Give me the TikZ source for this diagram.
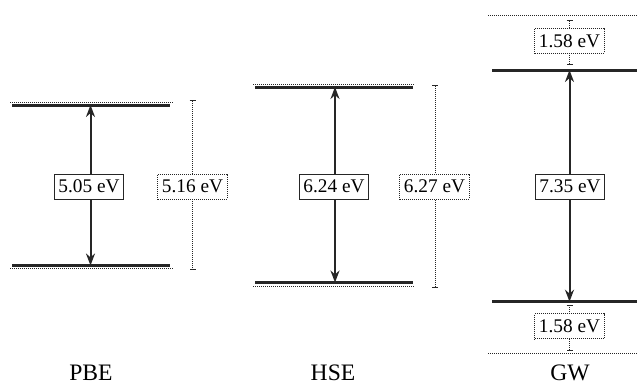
\documentclass[tikz,border=0pt]{standalone}
\usepackage{fontspec}
\setmainfont{Liberation Serif}
\usetikzlibrary{arrows.meta}

\tikzset{
  level/.style={line width=3pt, black!85},
  shifted/.style={densely dotted, line width=1pt, black!85},
  gap/.style={line width=2pt, black!85, {Stealth[length=12pt,width=9pt]}-{Stealth[length=12pt,width=9pt]}},
  span/.style={densely dotted, line width=1pt, black!85, {Bar[width=6pt]}-{Bar[width=6pt]}},
  valbox/.style={draw=black!85, line width=1pt, fill=white, inner xsep=4pt, inner ysep=0pt, minimum height=25pt, font=\fontsize{19.3}{23}\selectfont},
  dvalbox/.style={valbox, densely dotted},
  method/.style={anchor=base, font=\fontsize{23.6}{28}\selectfont}
}

\begin{document}
\begin{tikzpicture}[x=1pt,y=-1pt]
  \useasboundingbox (0,0) rectangle (637,384);
  % PBE
  \coordinate (pbe top) at (90.5,105);
  \coordinate (pbe bot) at (90.5,265.5);
  \coordinate (pbe span top) at (192.5,100);
  \coordinate (pbe span bot) at (192.5,270);
  \draw[shifted] (10,102.5) -- (173,102.5);
  \draw[shifted] (10,268.5) -- (173,268.5);
  \draw[level] (12,105) -- (170,105);
  \draw[level] (12,265.5) -- (170,265.5);
  \draw[gap] (pbe top) -- (pbe bot);
  \draw[span] (pbe span top) -- (pbe span bot);
  \node[valbox] (pbe gap) at (89,186.5) {5.05 eV};
  \node[dvalbox] (pbe qp) at (192.5,186.5) {5.16 eV};
  \node[method] (pbe) at (91,380) {PBE};
  % HSE
  \coordinate (hse top) at (335,87);
  \coordinate (hse bot) at (335,282.5);
  \coordinate (hse span top) at (435,85);
  \coordinate (hse span bot) at (435,288);
  \draw[shifted] (253,84) -- (415,84);
  \draw[shifted] (253,286) -- (415,286);
  \draw[level] (255,87) -- (413,87);
  \draw[level] (255,282.5) -- (413,282.5);
  \draw[gap] (hse top) -- (hse bot);
  \draw[span] (hse span top) -- (hse span bot);
  \node[valbox] (hse gap) at (334,186.5) {6.24 eV};
  \node[dvalbox] (hse qp) at (434.5,186.5) {6.27 eV};
  \node[method] (hse) at (333,380) {HSE};
  % GW
  \coordinate (gw top) at (569.5,70);
  \coordinate (gw bot) at (569.5,301.7);
  \draw[shifted] (488,15) -- (637,15);
  \draw[shifted] (488,353.3) -- (637,353.3);
  \draw[level] (492,70) -- (637,70);
  \draw[level] (492,301.7) -- (637,301.7);
  \draw[gap] (gw top) -- (gw bot);
  \draw[span] (569.5,20) -- (569.5,65);
  \draw[span] (569.5,304.5) -- (569.5,351);
  \node[valbox] (gw gap) at (570,186.5) {7.35 eV};
  \node[dvalbox] (gw up) at (569.5,40.8) {1.58 eV};
  \node[dvalbox] (gw down) at (569.5,326.3) {1.58 eV};
  \node[method] (gw) at (570,380) {GW};
\end{tikzpicture}
\end{document}
